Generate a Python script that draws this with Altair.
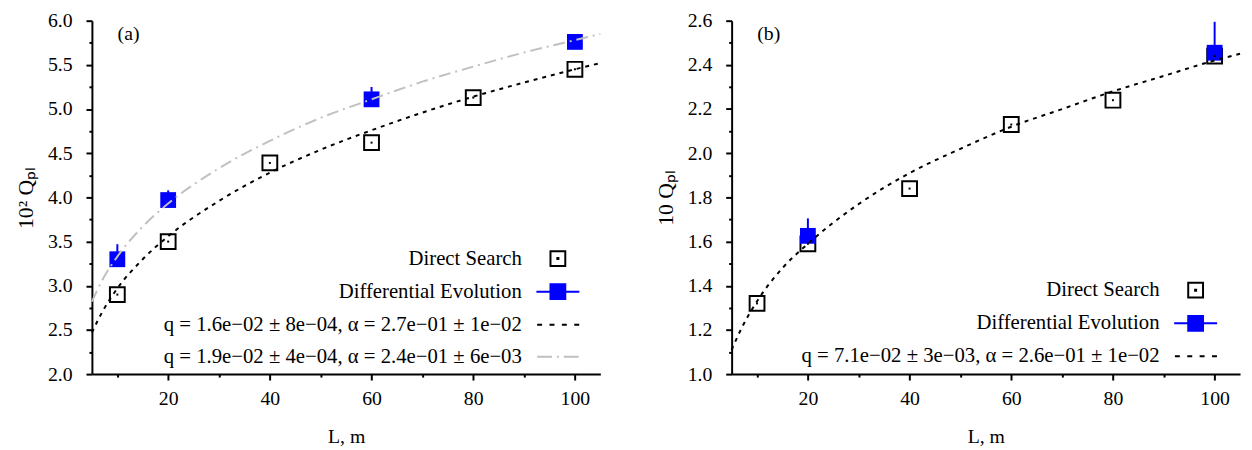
import altair as alt
import pandas as pd

FONT = "Liberation Serif"

# ---------------- data ----------------
L_ds = [10, 20, 40, 60, 80, 100]
L_fit = [5, 7, 10, 15, 20, 30, 40, 50, 60, 70, 80, 90, 100, 105]

# panel (a): 10^2 Q_pl
a_ds = [2.90, 3.50, 4.39, 4.62, 5.13, 5.45]
a_de_L = [10, 20, 60, 100]
a_de = [3.30, 3.97, 5.11, 5.76]
a_de_hi = [3.47, 4.08, 5.25, 5.80]
a_fit_ds = [2.47, 2.70, 2.97, 3.30, 3.56, 3.96, 4.28, 4.54, 4.76, 4.96, 5.14, 5.30, 5.45, 5.52]
a_fit_de = [2.82, 3.06, 3.33, 3.67, 3.93, 4.33, 4.64, 4.90, 5.11, 5.31, 5.48, 5.64, 5.78, 5.85]

# panel (b): 10 Q_pl
b_ds = [1.32, 1.59, 1.84, 2.13, 2.24, 2.44]
b_de_L = [20, 100]
b_de = [1.626, 2.455]
b_de_hi = [1.705, 2.595]
b_fit_ds = [1.11, 1.21, 1.33, 1.48, 1.59, 1.77, 1.91, 2.02, 2.12, 2.20, 2.28, 2.35, 2.42, 2.45]

x_ticks = [10, 20, 30, 40, 50, 60, 70, 80, 90, 100]
a_yticks = [2.0, 2.25, 2.5, 2.75, 3.0, 3.25, 3.5, 3.75, 4.0, 4.25, 4.5, 4.75,
            5.0, 5.25, 5.5, 5.75, 6.0]
b_yticks = [1.0, 1.1, 1.2, 1.3, 1.4, 1.5, 1.6, 1.7, 1.8, 1.9, 2.0, 2.1, 2.2,
            2.3, 2.4, 2.5, 2.6]

legend_a = ["Direct Search", "Differential Evolution",
            "q = 1.6e\u221202 \u00b1 8e\u221204, \u03b1 = 2.7e\u221201 \u00b1 1e\u221202",
            "q = 1.9e\u221202 \u00b1 4e\u221204, \u03b1 = 2.4e\u221201 \u00b1 6e\u221203"]
legend_b = ["Direct Search", "Differential Evolution",
            "q = 7.1e\u221202 \u00b1 3e\u221203, \u03b1 = 2.6e\u221201 \u00b1 1e\u221202"]

# legend symbol shapes (unit square = symbol size)
P_DS = "M-1,-1H1V1H-1Z M-0.07,-0.07H0.07V0.07H-0.07Z"
P_DE = "M-2.9,0H2.9 M-1,-1H1V1H-1Z"
P_DASH = "M-2.8,0H-2.13 M-1.13,0H-0.46 M0.54,0H1.21 M2.21,0H2.88"
P_DASHDOT = "M-2.8,0H-0.8 M-0.13,0H0.13 M0.8,0H2.8"

BLUE = "#0000ff"
GRAY = "#c0c0c0"


def panel(ds_y, de_L, de_y, de_hi, fits, fit_styles, ydomain, yticks, ymult,
          ytitle, tag, names, paths, fills, strokes, legx, legy):
    xaxis = alt.Axis(values=x_ticks, title="L, m", labelPadding=9, titlePadding=18,
                     labelExpr="datum.value % 20 == 0 ? datum.label : ''",
                     tickSize={"condition": {"test": "datum.value % 20 == 0", "value": 6}, "value": 3})
    major = f"abs(datum.value*{ymult} - round(datum.value*{ymult})) < 1e-6"
    yaxis = alt.Axis(values=yticks, title=ytitle, format=".1f", labelPadding=14, titlePadding=10,
                     titleFontSize=22,
                     labelExpr=f"{major} ? datum.label : ''",
                     tickSize={"condition": {"test": major, "value": 6}, "value": 3})
    xs = alt.Scale(domain=[5, 105], nice=False, zero=False)
    ys = alt.Scale(domain=ydomain, nice=False, zero=False)

    def X(f="L"):
        return alt.X(f"{f}:Q", scale=xs, axis=xaxis)

    def Y(f):
        return alt.Y(f"{f}:Q", scale=ys, axis=yaxis)

    ds = pd.DataFrame({"L": L_ds, "v": ds_y})
    de = pd.DataFrame({"L": de_L, "v": de_y, "hi": de_hi})

    layers = []
    layers.append(alt.Chart(ds).mark_square(size=225, fill="white", stroke="black",
                                            strokeWidth=2, opacity=1).encode(x=X(), y=Y("v")))
    layers.append(alt.Chart(de).mark_rule(color=BLUE, strokeWidth=2).encode(
        x=X(), y=Y("v"), y2="hi:Q"))
    layers.append(alt.Chart(de).mark_square(size=256, color=BLUE, opacity=1).encode(x=X(), y=Y("v")))
    for vals, (col, dash) in zip(fits, fit_styles):
        fd = pd.DataFrame({"L": L_fit, "v": vals})
        layers.append(alt.Chart(fd).mark_line(color=col, strokeDash=dash, strokeWidth=2,
                                              interpolate="monotone").encode(x=X(), y=Y("v")))
    layers.append(alt.Chart(ds).mark_square(size=4, color="black", opacity=1).encode(x=X(), y=Y("v")))
    layers.append(alt.Chart(pd.DataFrame({"t": [tag]})).mark_text(
        font=FONT, fontSize=20, align="left", baseline="middle", color="black").encode(
        x=alt.value(26), y=alt.value(14), text="t:N"))

    leg = alt.Legend(title=None, orient="none", legendX=legx, legendY=legy,
                     labelAlign="right", labelOffset={"expr": "-47"}, symbolOffset=42.5,
                     labelFont=FONT, labelFontSize=21,
                     labelLimit=2000, labelColor="black", rowPadding=10.5, symbolSize=225,
                     symbolStrokeWidth=2, symbolOpacity=1, padding=0)
    ld = pd.DataFrame({"series": names})
    layers.append(alt.Chart(ld).mark_point().encode(
        shape=alt.Shape("series:N", scale=alt.Scale(domain=names, range=paths), legend=leg),
        fill=alt.Fill("series:N", scale=alt.Scale(domain=names, range=fills), legend=leg),
        stroke=alt.Stroke("series:N", scale=alt.Scale(domain=names, range=strokes), legend=leg),
    ).transform_filter("false"))
    return alt.layer(*layers).properties(width=515, height=358)


pa = panel(a_ds, a_de_L, a_de, a_de_hi, [a_fit_ds, a_fit_de],
           [("black", [4, 5]), (GRAY, [12, 5, 2, 5])], [2, 6], a_yticks, 2,
           "10\u00b2 Q\u209a\u2097", "(a)", legend_a,
           [P_DS, P_DE, P_DASH, P_DASHDOT], ["white", BLUE, "transparent", "transparent"],
           ["black", BLUE, "black", GRAY], 419, 230.5)
pb = panel(b_ds, b_de_L, b_de, b_de_hi, [b_fit_ds],
           [("black", [4, 5])], [1, 2.6], b_yticks, 5,
           "10 Q\u209a\u2097", "(b)", legend_b,
           [P_DS, P_DE, P_DASH], ["white", BLUE, "transparent"],
           ["black", BLUE, "black"], 417, 262.5)

chart = alt.hconcat(pa, pb, spacing=51).resolve_scale(
    x="independent", y="independent", shape="independent", fill="independent", stroke="independent"
).resolve_legend(shape="independent", fill="independent", stroke="independent").properties(
    padding={"left": 7, "top": 0, "right": 0, "bottom": 0}
).configure_view(stroke=None).configure_axis(
    domainColor="black", domainWidth=2, tickColor="black", tickWidth=2, grid=False,
    labelFont=FONT, labelFontSize=20, labelColor="black",
    titleFont=FONT, titleFontSize=20, titleFontWeight="normal", titleColor="black"
)

chart.save("out.html", embed_options={"renderer": "svg", "actions": False})
